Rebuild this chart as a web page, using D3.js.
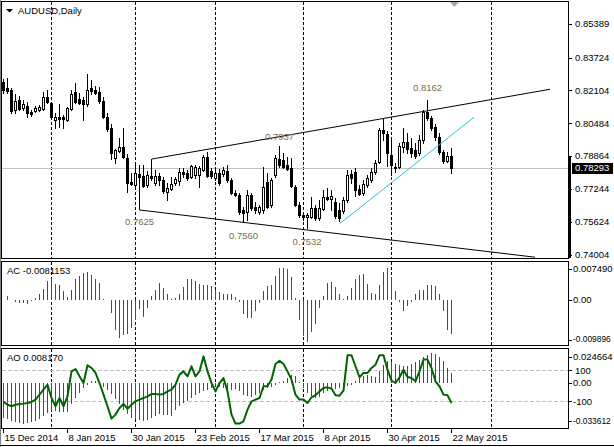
<!DOCTYPE html>
<html>
<head>
<meta charset="utf-8">
<script src="https://cdn.jsdelivr.net/npm/d3@7"></script>
<style>
  body { margin: 0; background: #fff; }
  svg { display: block; font-family: "Liberation Sans", Arial, sans-serif; font-size: 9.5px; }
</style>
</head>
<body>
<div id="chart"></div>
<script>
// Daily AUDUSD bars, 15 Dec 2014 .. 22 May 2015
var opens = [
  .8251,.8222,.8212,.8114,.8163,.8124,.8133,.8103,.8108,.8114,
  .8118,.8177,.8148,.8064,.8079,.8079,.8064,.8118,.8202,.8168,
  .8163,.8143,.8222,.8212,.8202,.8158,.8079,.8025,.7877,.7911,
  .7931,.7877,.7758,.7744,.7798,.7788,.7744,.7788,.7753,.7788,
  .7768,.7709,.7724,.7753,.7763,.7808,.7803,.7783,.7793,.7793,
  .7818,.7882,.7813,.7778,.7803,.7798,.7813,.7768,.7704,.7694,
  .7620,.7610,.7694,.7635,.7610,.7620,.7758,.7645,.7793,.7872,
  .7867,.7842,.7827,.7734,.7645,.7596,.7586,.7586,.7630,.7581,
  .7625,.7684,.7675,.7660,.7620,.7615,.7670,.7798,.7808,.7724,
  .7704,.7744,.7768,.7808,.7857,.8015,.7995,.7891,.7827,.7832,
  .7931,.7955,.7926,.7916,.7901,.7965,.8103,.8074,.8030,.7980,
  .7906,.7862,.7887
];
var highs = [
  .8266,.8271,.8222,.8192,.8182,.8163,.8153,.8114,.8133,.8138,
  .8202,.8212,.8153,.8099,.8143,.8089,.8128,.8212,.8246,.8197,
  .8177,.8291,.8261,.8232,.8227,.8177,.8099,.8044,.7921,.7975,
  .8025,.7896,.7803,.7842,.7842,.7842,.7813,.7872,.7818,.7803,
  .7783,.7753,.7783,.7783,.7827,.7827,.7818,.7842,.7842,.7837,
  .7891,.7906,.7827,.7827,.7822,.7832,.7842,.7778,.7719,.7704,
  .7635,.7719,.7704,.7660,.7645,.7832,.7803,.7778,.7891,.7937,
  .7901,.7882,.7877,.7744,.7660,.7610,.7605,.7684,.7645,.7670,
  .7719,.7729,.7719,.7679,.7655,.7684,.7818,.7818,.7827,.7744,
  .7768,.7793,.7827,.7867,.8025,.8074,.8010,.7965,.7852,.7951,
  .8025,.8000,.7975,.7951,.7990,.8114,.8162,.8084,.8044,.8000,
  .7916,.7906,.7926
];
var lows = [
  .8197,.8197,.8099,.8099,.8114,.8114,.8079,.8084,.8103,.8108,
  .8114,.8148,.8074,.8025,.8030,.8025,.8059,.8114,.8148,.8143,
  .8064,.8133,.8192,.8192,.8148,.8074,.8010,.7872,.7852,.7906,
  .7877,.7709,.7744,.7734,.7625,.7734,.7734,.7768,.7744,.7744,
  .7704,.7670,.7719,.7744,.7744,.7783,.7768,.7778,.7778,.7734,
  .7813,.7783,.7778,.7768,.7744,.7788,.7758,.7699,.7689,.7601,
  .7560,.7571,.7620,.7605,.7601,.7605,.7630,.7635,.7783,.7832,
  .7827,.7818,.7734,.7640,.7586,.7571,.7532,.7581,.7571,.7571,
  .7620,.7670,.7620,.7581,.7566,.7605,.7660,.7753,.7689,.7694,
  .7694,.7734,.7758,.7798,.7852,.7965,.7837,.7793,.7808,.7827,
  .7906,.7901,.7882,.7877,.7891,.7951,.8064,.8015,.7965,.7896,
  .7852,.7857,.7803
];
var closes = [
  .8212,.8207,.8108,.8158,.8118,.8143,.8099,.8094,.8124,.8128,
  .8177,.8153,.8079,.8079,.8069,.8069,.8124,.8192,.8153,.8148,
  .8143,.8212,.8207,.8197,.8158,.8079,.8020,.7901,.7916,.7931,
  .7882,.7753,.7748,.7803,.7783,.7739,.7793,.7778,.7788,.7768,
  .7714,.7729,.7748,.7773,.7808,.7798,.7778,.7837,.7832,.7827,
  .7882,.7788,.7788,.7803,.7753,.7818,.7768,.7704,.7694,.7610,
  .7605,.7694,.7630,.7620,.7635,.7734,.7635,.7768,.7877,.7842,
  .7832,.7822,.7739,.7645,.7596,.7586,.7596,.7630,.7581,.7630,
  .7684,.7675,.7689,.7591,.7581,.7670,.7793,.7778,.7719,.7699,
  .7748,.7778,.7808,.7852,.8015,.8000,.7901,.7842,.7832,.7936,
  .7955,.7921,.7901,.7887,.7965,.8103,.8074,.8025,.7980,.7906,
  .7862,.7887,.78293
];

// Accelerator oscillator
var acValues = [
  0,.00093,0,-.0006,-.0008,-.0009,-.0010,-.0003,.00039,.0014,
  .0025,.0044,.0051,.0037,.0033,.0019,.0006,.0023,.0047,.0054,
  .0061,.0065,.0058,.0049,.0039,.0002,-.0002,-.0031,-.0072,-.0089,
  -.0082,-.0080,-.0066,-.0047,-.0023,-.0041,-.0019,.0009,.0022,.0039,
  .0026,.0013,.0002,.0004,.0012,.0029,.0047,.0049,.0043,.0036,
  .0035,.0034,.0031,.0022,.0017,.0014,.0012,.0013,.0005,-.0006,
  -.0033,-.0043,-.0044,-.0027,-.0008,.0019,.0031,.0035,.0054,.00749,
  .0074,.0072,.0053,.0004,-.0047,-.0086,-.009896,-.0075,-.0056,-.0019,
  .0009,.0039,.0040,.0029,.0013,.0001,.0009,.0027,.0048,.0058,
  .0060,.0037,.0016,.0012,.0035,.0065,.0074,.0053,.0019,-.0006,
  -.0026,-.0016,-.0006,.0012,.0022,.0023,.0035,.0034,.0031,.0013,
  -.0027,-.0070,-.0081153
];

// Awesome oscillator (x 0.001)
var aoValues = [
  -29.0,-30.0,-31.0,-32.0,-33.0,-33.612,-33.3,-32.5,-31.3,-29.8,
  -27.0,-24.5,-23.0,-23.3,-23.6,-23.9,-24.2,-17.0,-12.0,-8.0,
  -4.5,-2.0,1.5,2.0,-1.0,-3.0,-5.5,-9.0,-13.0,-17.5,
  -22.0,-26.0,-28.5,-30.0,-30.8,-31.2,-30.2,-28.8,-27.0,-25.8,
  -26.3,-26.6,-26.9,-22.0,-19.3,-16.5,-14.6,-12.4,-10.2,-8.3,
  -6.9,-5.5,-4.1,-2.8,-3.5,-4.5,-5.8,-5.5,-4.7,-6.9,
  -9.6,-11.0,-11.2,-10.0,-8.0,-6.0,-4.5,-3.0,-1.4,0.8,
  1.9,4.1,6.9,5.5,1.0,-4.1,-8.3,-11.0,-12.4,-11.8,
  -8.3,-6.9,-5.5,-5.0,-4.1,-6.0,-2.8,-1.4,1.4,4.1,
  5.5,6.9,5.5,5.0,9.6,15.1,18.4,17.3,15.7,14.6,
  13.8,14.3,15.7,17.1,19.0,21.2,22.8,24.664,24.2,21.2,
  17.9,12.4,8.17
];

// CCI line drawn in the AO window
var cciValues = [
  -104,-122,-132,-122,-117,-115,-111,-104,-89,-57,
  -25,7,-79,-132,-79,-132,-68,93,108,61,
  18,132,115,83,18,-57,-132,-212,-186,-143,
  -117,-148,-122,-100,-89,-79,-68,-53,-53,-57,
  -53,-36,-25,7,72,93,61,126,61,93,
  190,93,18,-36,18,50,-36,-186,-244,-244,
  -229,-154,-100,-89,-79,-3,-3,40,141,162,
  141,93,40,-57,-89,-89,-111,-74,-61,-36,
  -14,-10,-18,-61,-64,-31,197,197,126,55,
  83,83,115,136,197,197,104,33,18,55,
  104,57,50,29,93,169,169,115,29,-3,
  -57,-61,-111
];

var dateBars = [0, 16, 32, 48, 64, 80, 96, 112];
var dateLabels = ["15 Dec 2014", "8 Jan 2015", "30 Jan 2015", "23 Feb 2015",
                  "17 Mar 2015", "8 Apr 2015", "30 Apr 2015", "22 May 2015"];
var monthBars = [12, 33, 53, 75, 97, 122];

var priceTicks = [0.85389, 0.83724, 0.82104, 0.80484, 0.78864, 0.77244, 0.75624, 0.74004];
var bidPrice = 0.78293;

// drawn objects: [bar1, price1, bar2, price2]
var channelUpper = [37.2, 0.7872, 136.75, 0.8216];
var channelLower = [34.1, 0.7621, 133, 0.7388];
var cyanLine = [84.1, 0.7552, 117.75, 0.8078];

var priceNotes = ["0.7625", "0.7560", "0.7532", "0.7937", "0.8162"];
var noteBars = [30.5, 56.5, 72.4, 65.5, 102.5];
var notePrices = [0.7562, 0.7493, 0.7464, 0.7981, 0.8222];

var width = 614, height = 447;

var svg = d3.select("#chart").append("svg")
  .attr("width", width)
  .attr("height", height)
  .attr("shape-rendering", "crispEdges");

var x = d3.scaleLinear().domain([0, 112]).range([3, 451]);
var yP = d3.scaleLinear().domain([0.74004, 0.85389]).range([254.7, 23.8]);
var yAC = d3.scaleLinear().domain([-0.009896, 0.007490]).range([342, 267.5]);
var yAO = d3.scaleLinear().domain([-0.033612, 0.024664]).range([423.7, 353.1]);
var yCCI = d3.scaleLinear().domain([-100, 100]).range([401.3, 370.3]);

// panels
var panels = [
  { top: 1.5, bottom: 258.5 },
  { top: 261.5, bottom: 345.5 },
  { top: 348.5, bottom: 428.5 }
];
var left = 1.5, right = 568.5;

svg.append("rect").attr("width", width).attr("height", height).attr("fill", "#fff");

var defs = svg.append("defs");
panels.forEach(function (p, k) {
  defs.append("clipPath").attr("id", "clip" + k)
    .append("rect")
    .attr("x", left + 0.5).attr("y", p.top + 0.5)
    .attr("width", right - left - 1).attr("height", p.bottom - p.top - 1);
});

// month separators (dashed)
panels.forEach(function (p, k) {
  svg.append("g").attr("clip-path", "url(#clip" + k + ")")
    .selectAll("line").data(monthBars).enter().append("line")
    .attr("x1", function (d) { return Math.round(x(d)) + 0.5; })
    .attr("x2", function (d) { return Math.round(x(d)) + 0.5; })
    .attr("y1", p.top).attr("y2", p.bottom)
    .attr("stroke", "#000").attr("stroke-dasharray", "3,2");
});

// ---- main price panel ----
var main = svg.append("g").attr("clip-path", "url(#clip0)");

var bidY = Math.round(yP(bidPrice)) + 0.5;
main.append("line")
  .attr("x1", left).attr("x2", right).attr("y1", bidY).attr("y2", bidY)
  .attr("stroke", "#c0c0c0");

var bars = d3.range(opens.length);
var candles = main.selectAll(".candle").data(bars).enter().append("g").attr("class", "candle");

candles.append("rect")
  .attr("x", function (i) { return Math.round(x(i)); })
  .attr("y", function (i) { return Math.round(yP(highs[i])); })
  .attr("width", 1)
  .attr("height", function (i) { return Math.round(yP(lows[i])) - Math.round(yP(highs[i])) + 1; })
  .attr("fill", "#000");

candles.append("rect")
  .attr("x", function (i) { return Math.round(x(i)) - 1; })
  .attr("y", function (i) { return Math.round(yP(Math.max(opens[i], closes[i]))); })
  .attr("width", 3)
  .attr("height", function (i) {
    return Math.max(1, Math.round(yP(Math.min(opens[i], closes[i]))) - Math.round(yP(Math.max(opens[i], closes[i]))) + 1);
  })
  .attr("fill", "#000");

candles.filter(function (i) { return closes[i] > opens[i]; })
  .append("rect")
  .attr("x", function (i) { return Math.round(x(i)); })
  .attr("y", function (i) { return Math.round(yP(closes[i])) + 1; })
  .attr("width", 1)
  .attr("height", function (i) {
    return Math.max(0, Math.round(yP(opens[i])) - Math.round(yP(closes[i])) - 1);
  })
  .attr("fill", "#fff");

// trend lines
function drawTrend(t, color) {
  main.append("line")
    .attr("x1", x(t[0])).attr("y1", yP(t[1]))
    .attr("x2", x(t[2])).attr("y2", yP(t[3]))
    .attr("stroke", color).attr("stroke-width", 1)
    .attr("shape-rendering", "auto");
}
drawTrend(channelUpper, "#000");
drawTrend(channelLower, "#000");
drawTrend(cyanLine, "#22c4dc");

main.selectAll(".note").data(priceNotes).enter().append("text")
  .attr("class", "note")
  .attr("x", function (d, i) { return x(noteBars[i]); })
  .attr("y", function (d, i) { return yP(notePrices[i]); })
  .attr("dy", "0.35em")
  .attr("fill", "#7a6c48")
  .text(function (d) { return d; });

// title
svg.append("path").attr("d", "M6,9L13,9L9.5,12.5Z").attr("fill", "#000").attr("shape-rendering", "auto");
svg.append("text").attr("x", 18).attr("y", 11).attr("dy", "0.35em").text("AUDUSD,Daily");

// shift marker
svg.append("path").attr("d", "M450,2L459,2L454.5,7Z").attr("fill", "#a8a8a8").attr("shape-rendering", "auto");

// ---- AC panel ----
var acG = svg.append("g").attr("clip-path", "url(#clip1)");
acG.selectAll("rect").data(acValues).enter().append("rect")
  .attr("x", function (d, i) { return Math.round(x(i)); })
  .attr("y", function (d) { return Math.min(yAC(0), yAC(d)); })
  .attr("width", 1)
  .attr("height", function (d) { return Math.abs(yAC(d) - yAC(0)); })
  .attr("fill", function (d, i) { return (i === 0 || d >= acValues[i - 1]) ? "#008000" : "#ff0000"; });
svg.append("text").attr("x", 7).attr("y", 270.5).attr("dy", "0.35em").text("AC -0.0081153");

// ---- AO panel ----
var aoG = svg.append("g").attr("clip-path", "url(#clip2)");
[100, -100].forEach(function (lv) {
  var yy = Math.round(yCCI(lv)) + 0.5;
  aoG.append("line").attr("x1", left).attr("x2", right).attr("y1", yy).attr("y2", yy)
    .attr("stroke", "#c0c0c0").attr("stroke-dasharray", "4,2");
});
aoG.selectAll(".ao").data(aoValues).enter().append("rect")
  .attr("class", "ao")
  .attr("x", function (d, i) { return Math.round(x(i)); })
  .attr("y", function (d) { return Math.min(yAO(0), yAO(d / 1000)); })
  .attr("width", 1)
  .attr("height", function (d) { return Math.abs(yAO(d / 1000) - yAO(0)); })
  .attr("fill", function (d, i) { return (i === 0 || d >= aoValues[i - 1]) ? "#008000" : "#ff0000"; });

var cciLine = d3.line()
  .x(function (d, i) { return x(i) + 0.5; })
  .y(function (d) { return yCCI(d); });
aoG.append("path").datum(cciValues)
  .attr("d", cciLine)
  .attr("fill", "none")
  .attr("stroke", "#006400")
  .attr("stroke-width", 2)
  .attr("stroke-linejoin", "round")
  .attr("shape-rendering", "auto");
svg.append("text").attr("x", 7).attr("y", 358).attr("dy", "0.35em").text("AO 0.008170");

// panel borders
panels.forEach(function (p) {
  svg.append("rect")
    .attr("x", left).attr("y", p.top)
    .attr("width", right - left).attr("height", p.bottom - p.top)
    .attr("fill", "none").attr("stroke", "#000");
});
svg.append("line").attr("x1", 0.5).attr("x2", 0.5).attr("y1", 0).attr("y2", height).attr("stroke", "#808080");
svg.append("line").attr("x1", 0).attr("x2", width).attr("y1", 445.5).attr("y2", 445.5).attr("stroke", "#000");

// thick part of the price axis
svg.append("rect").attr("x", 568).attr("y", Math.round(yP(0.78864))).attr("width", 3)
  .attr("height", 258 - Math.round(yP(0.78864))).attr("fill", "#000");

// ---- right axis labels ----
var axisG = svg.append("g");
function axisLabel(yy, txt, tx, size) {
  axisG.append("line").attr("x1", 568).attr("x2", 572)
    .attr("y1", Math.round(yy) + 0.5).attr("y2", Math.round(yy) + 0.5).attr("stroke", "#000");
  var t = axisG.append("text").attr("x", tx).attr("y", yy).attr("dy", "0.35em").text(txt);
  if (size) t.style("font-size", size + "px");
}
priceTicks.forEach(function (p) { axisLabel(yP(p), p.toFixed(5), 575); });

// current price box
var by = yP(bidPrice);
axisG.append("rect").attr("x", 572).attr("y", Math.round(by) - 5).attr("width", 41).attr("height", 11).attr("fill", "#000");
axisG.append("text").attr("x", 575).attr("y", by).attr("dy", "0.35em").attr("fill", "#fff").text(bidPrice.toFixed(5));

var acTicks = [0.007490, 0, -0.009896];
var acTickText = ["0.007490", "0.00", "-0.009896"];
acTicks.forEach(function (v, k) {
  axisLabel(Math.max(269, Math.min(339.5, yAC(v))), acTickText[k], 573, v < 0 ? 8.4 : null);
});
var aoTicks = [0.024664, 0, -0.033612];
var aoTickText = ["0.024664", "0.00", "-0.033612"];
aoTicks.forEach(function (v, k) {
  axisLabel(Math.max(357, Math.min(421, yAO(v))), aoTickText[k], 573, v < 0 ? 8.4 : null);
});
axisLabel(yCCI(100), "100", 575);
axisLabel(yCCI(-100), "-100", 573);

// ---- date axis ----
dateBars.forEach(function (b, k) {
  var xx = Math.round(x(b)) + 0.5;
  svg.append("line").attr("x1", xx).attr("x2", xx).attr("y1", 428).attr("y2", 433).attr("stroke", "#000");
  svg.append("text").attr("x", xx + 1).attr("y", 438).attr("dy", "0.35em").text(dateLabels[k]);
});
</script>
</body>
</html>
